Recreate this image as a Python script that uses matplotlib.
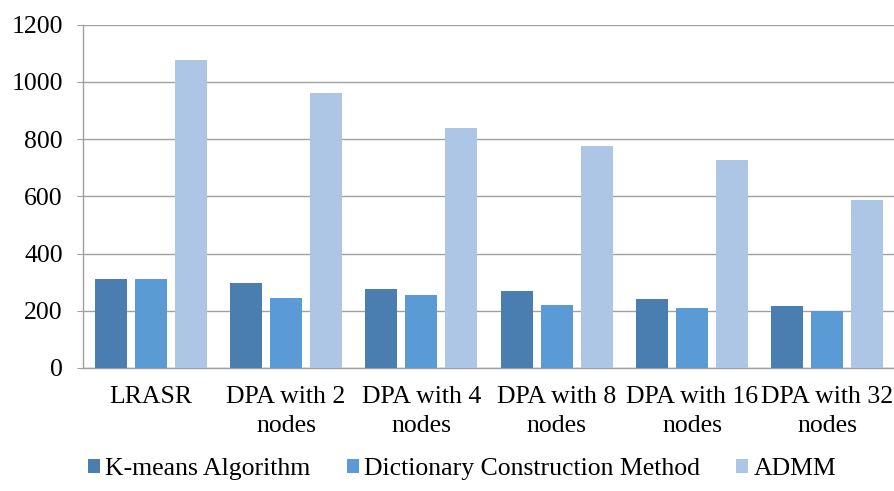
import matplotlib.pyplot as plt
import numpy as np

plt.rcParams['font.family'] = ['Liberation Serif', 'DejaVu Serif']

categories = ["LRASR", "DPA with 2\nnodes", "DPA with 4\nnodes", "DPA with 8\nnodes",
              "DPA with 16\nnodes", "DPA with 32\nnodes"]
kmeans = [310, 296, 276, 270, 242, 215]
dictionary = [312, 245, 256, 220, 209, 199]
admm = [1075, 959, 839, 775, 726, 586]
series_names = ["K-means Algorithm", "Dictionary Construction Method", "ADMM"]
colors = ["#4a7eb0", "#5b9bd5", "#adc6e5"]

fig = plt.figure(figsize=(8.95, 4.91), dpi=100)
ax = fig.add_axes([83 / 895, 1 - 368 / 491, 812 / 895, (368 - 24.5) / 491])

x = np.arange(len(categories))
w = 0.236
pitch = 0.296
for i, (vals, name, c) in enumerate(zip([kmeans, dictionary, admm], series_names, colors)):
    ax.bar(x + (i - 1) * pitch, vals, width=w, color=c, label=name, zorder=3)

ax.set_xlim(-0.5, len(categories) - 0.5)
ax.set_ylim(0, 1200)
ax.set_yticks(range(0, 1201, 200))
ax.yaxis.grid(True, color="#a0a0a0", linewidth=1.0, zorder=0)
ax.set_xticks(x)
ax.set_xticklabels(categories, fontsize=18.5, linespacing=1.42)
ax.tick_params(axis="x", length=0, pad=13)
ax.tick_params(axis="y", labelsize=18.5, length=4, color="#a0a0a0", pad=10.5)
for s in ["top", "right"]:
    ax.spines[s].set_visible(False)
for s in ["left", "bottom"]:
    ax.spines[s].set_color("#a0a0a0")
    ax.spines[s].set_linewidth(1.0)

fig.legend(loc="center", bbox_to_anchor=(0.516, 0.044), ncol=3, frameon=False,
           fontsize=18.5, handlelength=0.47, handleheight=0.47,
           handletextpad=0.2, columnspacing=1.42)

fig.savefig("out.png", dpi=100)
